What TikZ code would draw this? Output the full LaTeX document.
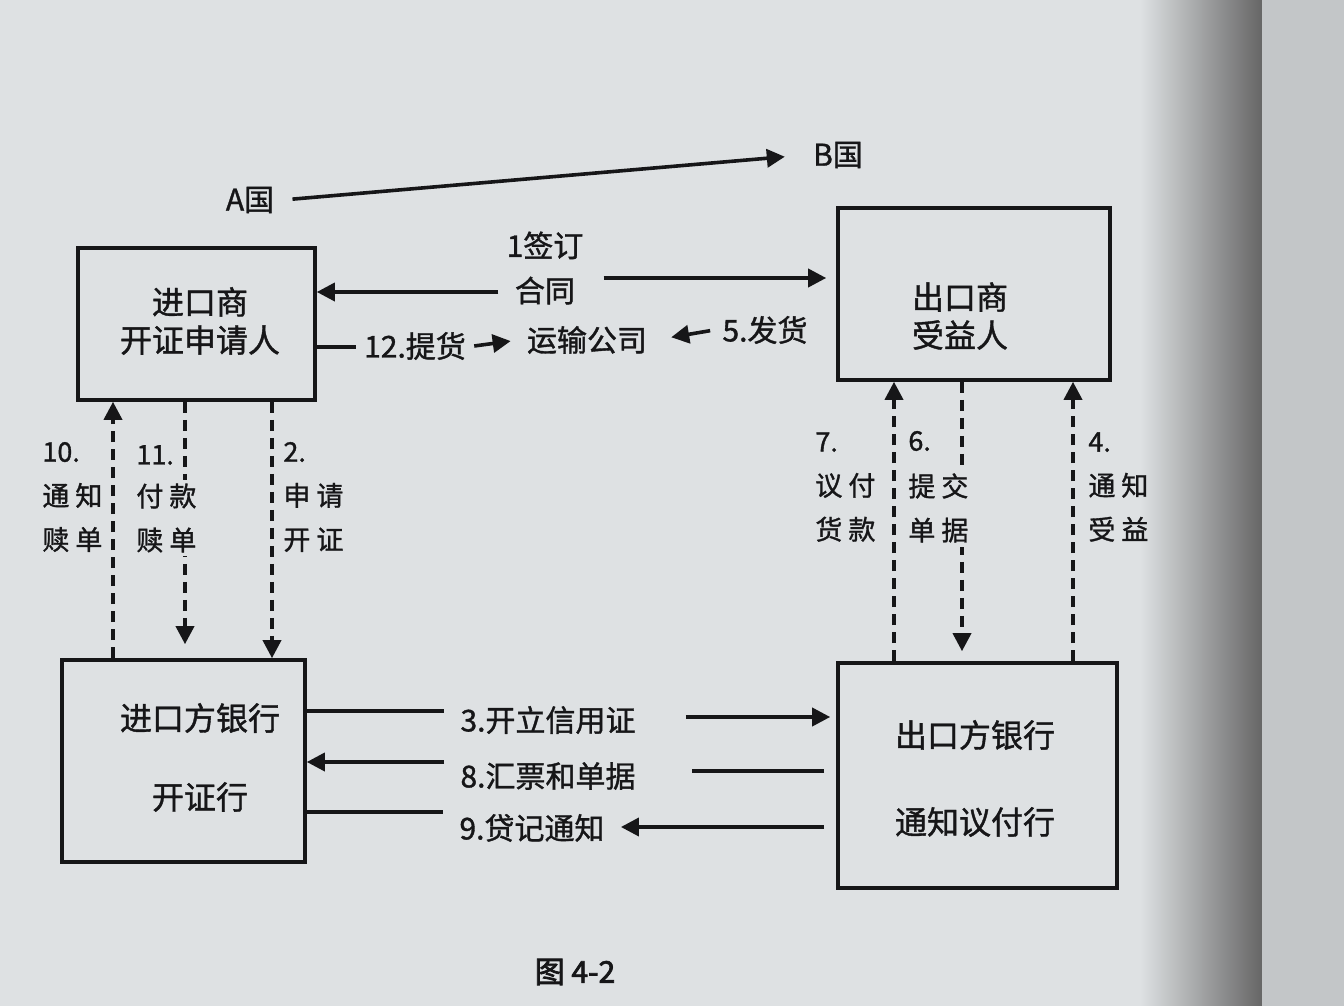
\documentclass[tikz,border=0pt]{standalone}
\usepackage{fontspec}
\newfontfamily\cjk[FakeBold=1.2]{Noto Sans CJK SC}
\newfontfamily\cjkb[FakeBold=2.5]{Noto Sans CJK SC}
\usetikzlibrary{arrows.meta}
\definecolor{page}{RGB}{222,225,227}
\definecolor{ink}{RGB}{22,22,24}
\newcommand\gp{\hspace{3pt}}
\tikzset{
  box/.style={draw=ink, line width=1.8pt, inner sep=0pt},
  boxtxt/.style={font=\cjk\fontsize{16}{19}\selectfont, text=ink, inner sep=0pt, align=center},
  lbl/.style={font=\cjk\fontsize{15}{22.5}\selectfont, text=ink, inner sep=4pt},
  vlbl/.style={font=\cjk\fontsize{13.5}{22}\selectfont, text=ink, align=left, anchor=west, inner sep=0pt},
  sol/.style={draw=ink, line width=1.8pt},
  arr/.style={sol, -{Triangle[length=9pt,width=9pt]}},
  dsh/.style={draw=ink, line width=1.8pt, dash pattern=on 5.5pt off 3.5pt},
  darr/.style={dsh, -{Triangle[length=9pt,width=9pt]}},
}
\begin{document}
\begin{tikzpicture}[x=0.5pt,y=-0.5pt]
\fill[page] (0,0) rectangle (1344,1006);
\useasboundingbox (0,0) rectangle (1344,1006);
\shade[left color=page, right color=black!60] (1140,0) rectangle (1262,1006);
\fill[page!88!black] (1262,0) rectangle (1344,1006);

% countries
\node[lbl] (A) at (250,200) {A国};
\node[lbl] (B) at (838,155) {B国};
\draw[arr, shorten <=5pt, shorten >=10pt] (A.east) -- (B.west);

% boxes
\node[box, minimum width=118.5pt, minimum height=76pt] (imp) at (196.5,324) {};
\node[boxtxt] (impt) at (200,321) {进口商\\开证申请人};
\node[box, minimum width=136pt, minimum height=86pt] (exp) at (974,294) {};
\node[boxtxt] (expt) at (960,316) {出口商\\受益人};
\node[box, minimum width=121.5pt, minimum height=101pt] (impbank) at (183.5,761) {};
\node[boxtxt] (ib1) at (200,718) {进口方银行};
\node[boxtxt] (ib2) at (200,797) {开证行};
\node[box, minimum width=139.5pt, minimum height=112.5pt] (expbank) at (977.5,775.5) {};
\node[boxtxt] (eb1) at (975,735) {出口方银行};
\node[boxtxt] (eb2) at (975,822) {通知议付行};

% y levels
\coordinate (y1a) at (0,292);
\coordinate (y1b) at (0,278);
\coordinate (y12) at (0,347);
\coordinate (y3a) at (0,711);
\coordinate (y3b) at (0,717);
\coordinate (y8a) at (0,762);
\coordinate (y8b) at (0,771);
\coordinate (y9a) at (0,812);
\coordinate (y9b) at (0,827);

% 1 contract
\node[lbl, align=center] (l1) at (545,268) {1签订\\合同};
\draw[arr] (l1.west |- y1a) -- (imp.east |- y1a);
\draw[arr, shorten <=6pt, shorten >=5pt] (l1.east |- y1b) -- (exp.west |- y1b);

% shipping row
\node[lbl] (l12) at (415,346) {12.提货};
\node[lbl] (ship) at (587,340) {运输公司};
\node[lbl] (l5) at (765,330) {5.发货};
\draw[sol] (imp.east |- y12) -- (l12.west |- y12);
\draw[arr, shorten >=4pt] (l12.east) -- (ship.west);
\draw[arr, shorten <=2pt, shorten >=8pt] (l5.west) -- (ship.east);

% bank rows
\node[lbl] (l3) at (548,720) {3.开立信用证};
\node[lbl] (l8) at (548,776) {8.汇票和单据};
\node[lbl] (l9) at (532,828) {9.贷记通知};
\draw[sol, shorten >=4pt] (impbank.east |- y3a) -- (l3.west |- y3a);
\draw[arr, shorten <=21pt, shorten >=3pt] (l3.east |- y3b) -- (expbank.west |- y3b);
\draw[arr, shorten <=4pt] (l8.west |- y8a) -- (impbank.east |- y8a);
\draw[sol, shorten <=6pt, shorten >=24pt] (expbank.west |- y8b) -- (l8.east |- y8b);
\draw[sol, shorten >=4pt] (impbank.east |- y9a) -- (l9.west |- y9a);
\draw[arr, shorten <=6pt, shorten >=4pt] (expbank.west |- y9b) -- (l9.east |- y9b);

% vertical dashed connectors
\coordinate (x10) at (113,0);
\coordinate (x11) at (185,0);
\coordinate (x2) at (272,0);
\coordinate (x7) at (894,0);
\coordinate (x6) at (962,0);
\coordinate (x4) at (1073,0);
\draw[darr] (impbank.north -| x10) -- (imp.south -| x10);
\draw[darr, shorten >=7pt] (imp.south -| x11) -- (impbank.north -| x11);
\draw[darr] (imp.south -| x2) -- (impbank.north -| x2);
\draw[darr] (expbank.north -| x7) -- (exp.south -| x7);
\draw[darr, shorten >=5pt] (exp.south -| x6) -- (expbank.north -| x6);
\draw[darr] (expbank.north -| x4) -- (exp.south -| x4);

\node[vlbl] (v10) at (42,497) {10.\\通\gp 知\\赎\gp 单};
\node[vlbl] (v11n) at (136,455) {11.};
\node[vlbl, fill=page, inner ysep=2pt] (v11) at (136,518) {付\gp 款\\赎\gp 单};
\node[vlbl] (v2) at (283,497) {2.\\申\gp 请\\开\gp 证};
\node[vlbl] (v7) at (815,487) {7.\\议\gp 付\\货\gp 款};
\node[vlbl] (v6n) at (908,441) {6.};
\node[vlbl, fill=page, inner ysep=2pt] (v6) at (908,508) {提\gp 交\\单\gp 据};
\node[vlbl] (v4) at (1088,487) {4.\\通\gp 知\\受\gp 益};

% caption
\node[font=\cjkb\fontsize{15}{18}\selectfont, text=ink] (cap) at (575,972) {图 4-2};
\end{tikzpicture}
\end{document}
